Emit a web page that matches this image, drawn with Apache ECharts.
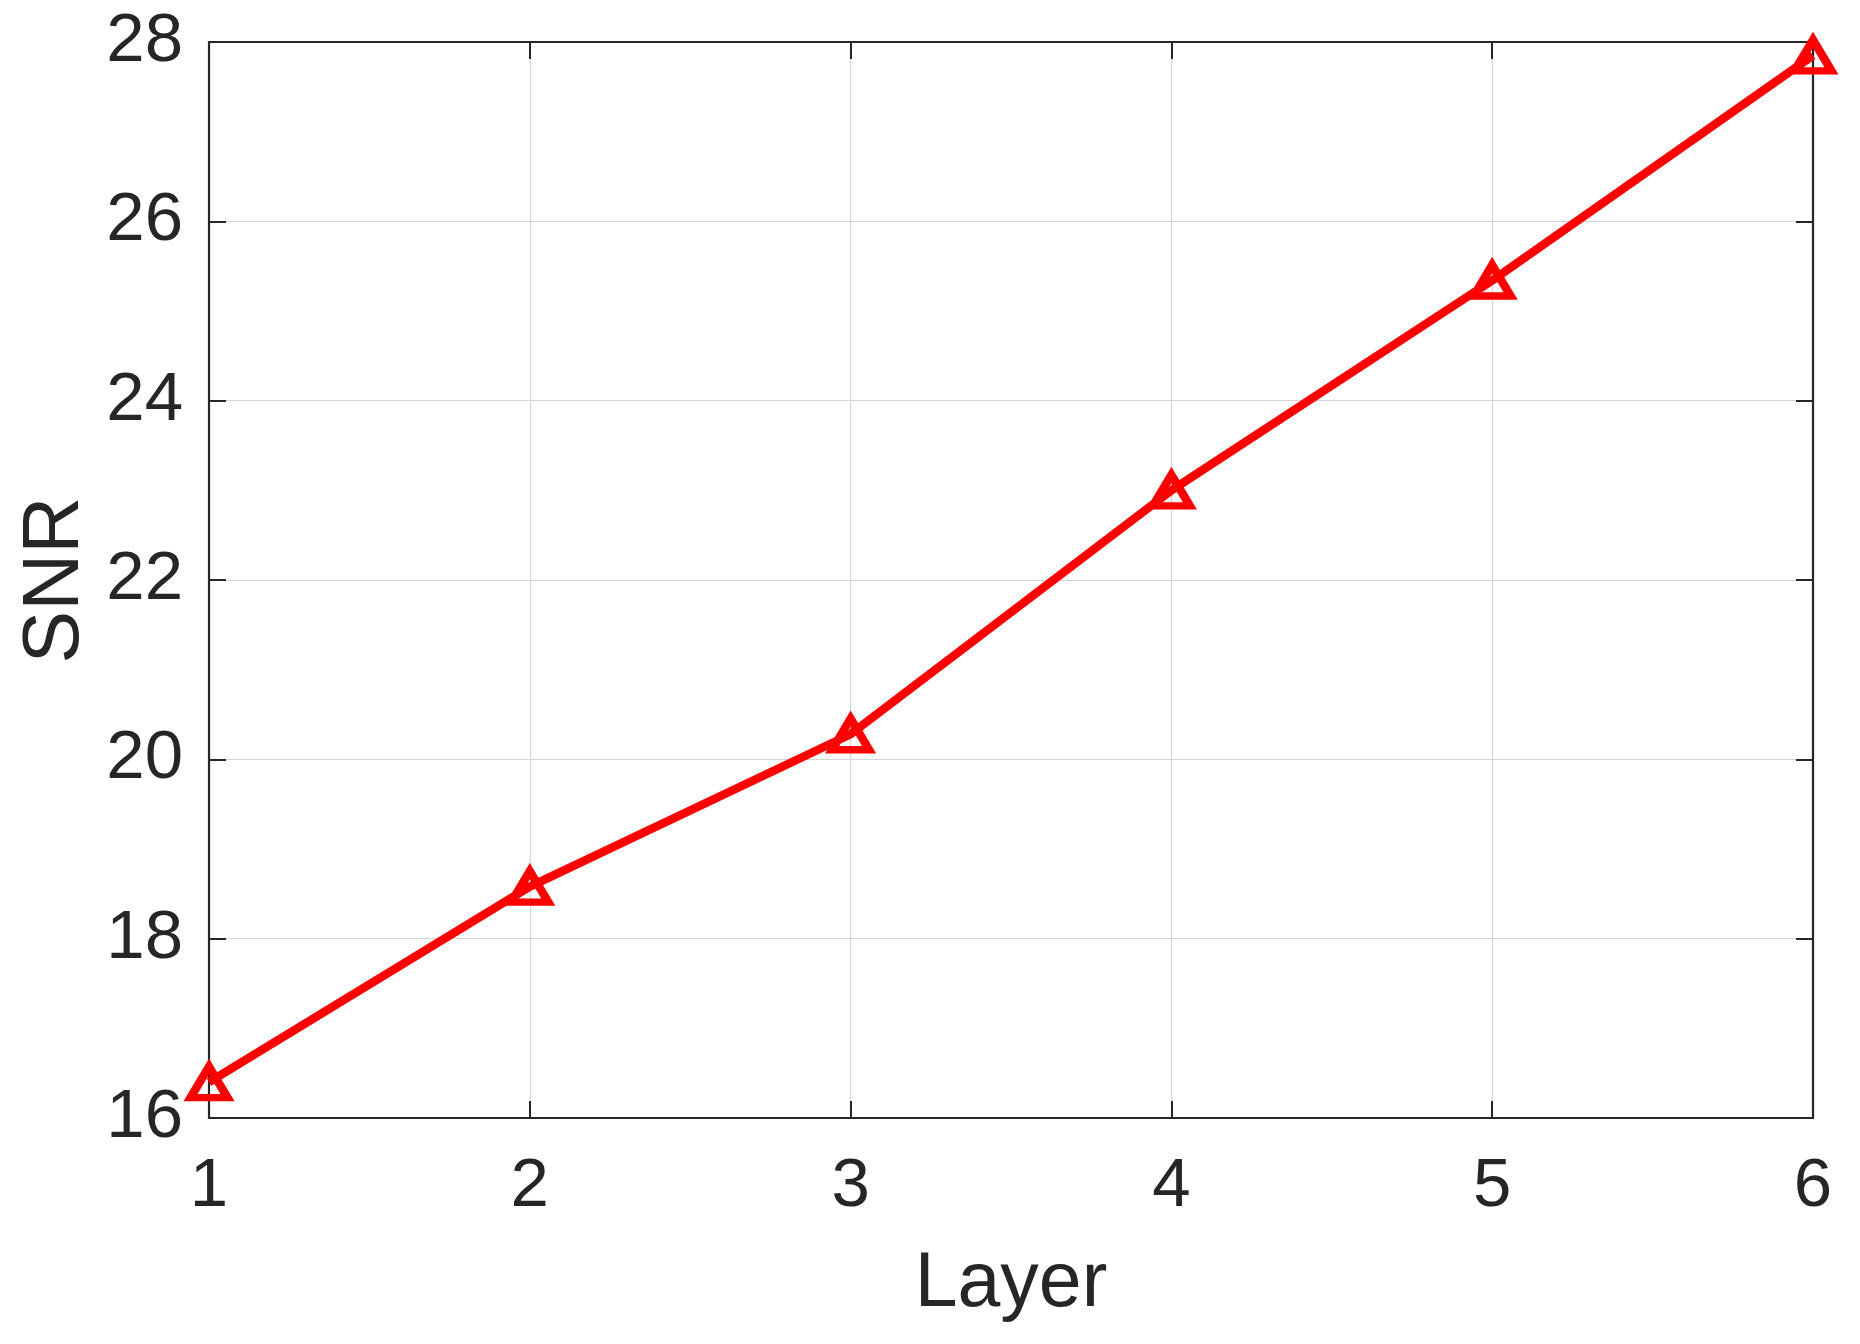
<!DOCTYPE html>
<html lang="en" style="height: 100%">
<head>
  <meta charset="utf-8">
</head>
<body style="height: 100%; margin: 0; background: #fff">
  <div id="container" style="height: 100%"></div>

  <script type="text/javascript" src="https://cdn.jsdelivr.net/npm/echarts@6/dist/echarts.min.js"></script>

  <script type="text/javascript">
    // data
    var layers = [1, 2, 3, 4, 5, 6];
    var snr = [16.4, 18.58, 20.28, 23.0, 25.34, 27.85];
    var xTicks = [1, 2, 3, 4, 5, 6];
    var yTicks = [16, 18, 20, 22, 24, 26, 28];

    var dom = document.getElementById('container');
    var myChart = echarts.init(dom, null, { renderer: 'canvas' });

    var ink = '#262626';
    var font = 'Liberation Sans, Arial, Helvetica, sans-serif';

    var points = layers.map(function (x, i) { return [x, snr[i]]; });

    // shared axis look (matlab style box, inward ticks)
    function axisBase(extra) {
      var a = {
        type: 'value',
        axisLine: { show: true, onZero: false, lineStyle: { color: ink, width: 2.2 } },
        axisTick: { show: true, inside: true, length: 17, lineStyle: { color: ink, width: 2 } },
        splitLine: { show: false },
        axisLabel: { show: false }
      };
      for (var k in extra) a[k] = extra[k];
      return a;
    }

    var option = {
      backgroundColor: '#fff',
      animation: false,
      grid: { left: 209, top: 42, right: 47, bottom: 226 },
      xAxis: [
        axisBase({
          min: xTicks[0], max: xTicks[xTicks.length - 1], interval: 1,
          position: 'bottom',
          name: 'Layer', nameLocation: 'middle', nameGap: 128,
          nameTextStyle: { color: ink, fontSize: 77, fontFamily: font },
          splitLine: { show: true, lineStyle: { color: '#d4d4d4', width: 1.2 } },
          axisLabel: { show: true, color: ink, fontSize: 69, fontFamily: font, margin: 34 }
        }),
        axisBase({
          min: xTicks[0], max: xTicks[xTicks.length - 1], interval: 1,
          position: 'top'
        })
      ],
      yAxis: [
        axisBase({
          min: yTicks[0], max: yTicks[yTicks.length - 1], interval: 2,
          position: 'left',
          name: 'SNR', nameLocation: 'middle', nameGap: 113, nameRotate: 90,
          nameTextStyle: { color: ink, fontSize: 79, fontFamily: font },
          splitLine: { show: true, lineStyle: { color: '#d4d4d4', width: 1.2 } },
          axisLabel: { show: true, color: ink, fontSize: 69, fontFamily: font, margin: 26 }
        }),
        axisBase({
          min: yTicks[0], max: yTicks[yTicks.length - 1], interval: 2,
          position: 'right'
        })
      ],
      series: [{
        type: 'line',
        data: points,
        symbol: 'triangle',
        symbolSize: [37, 31],
        showAllSymbol: true,
        lineStyle: { color: '#ff0000', width: 8.5 },
        itemStyle: { color: 'rgba(0,0,0,0)', borderColor: '#ff0000', borderWidth: 8 },
        clip: false,
        z: 5
      }]
    };

    myChart.setOption(option);
    window.addEventListener('resize', myChart.resize);
  </script>
</body>
</html>
